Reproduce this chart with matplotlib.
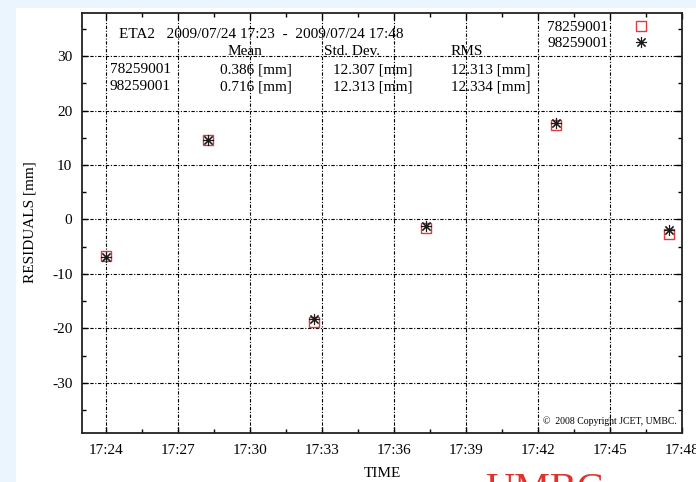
import datetime as dt
import matplotlib
matplotlib.use("Agg")
import matplotlib.pyplot as plt
import matplotlib.dates as mdates
from matplotlib.ticker import MultipleLocator
from matplotlib.lines import Line2D
from matplotlib.patches import Rectangle

# ---- data -------------------------------------------------------------
day = "2009-07-24"
obs_times = ["17:24:00", "17:28:15", "17:32:40", "17:37:20", "17:42:45", "17:47:28"]
res_78259001 = [-6.75, 14.5, -18.8, -1.5, 17.4, -2.6]
res_98259001 = [-6.9, 14.6, -18.3, -1.2, 17.7, -2.0]

station_ids = ["78259001", "98259001"]
stat_headers = ["Mean", "Std. Dev.", "RMS"]
stat_mean = ["0.386 [mm]", "0.716 [mm]"]
stat_std = ["12.307 [mm]", "12.313 [mm]"]
stat_rms = ["12.313 [mm]", "12.334 [mm]"]

title_text = "ETA2   2009/07/24 17:23  -  2009/07/24 17:48"
t_start, t_end = "17:23:00", "17:48:00"
y_range = (-39.2, 37.9)


def to_dt(hms):
    return dt.datetime.strptime(f"{day} {hms}", "%Y-%m-%d %H:%M:%S")


times = [to_dt(t) for t in obs_times]

# ---- figure -----------------------------------------------------------
W, H = 696, 482
plt.rcParams["font.family"] = ["Liberation Serif", "DejaVu Serif"]
plt.rcParams["axes.unicode_minus"] = False
fig = plt.figure(figsize=(W / 100, H / 100), dpi=100, facecolor="#ebf5fe")
# white page area
fig.patches.append(Rectangle((16 / W, 0), 1 - 16 / W, 1 - 8 / H,
                             transform=fig.transFigure, facecolor="white",
                             edgecolor="none", zorder=-10))

AX_L, AX_R, AX_T, AX_B = 82, 682, 13, 433
ax = fig.add_axes([AX_L / W, 1 - AX_B / H, (AX_R - AX_L) / W, (AX_B - AX_T) / H])
ax.set_facecolor("none")
ax.set_zorder(2)


def fx(px):
    return px / W


def fy(py):
    return 1 - py / H


# ---- marks ------------------------------------------------------------
red = "#e03a3a"
star_color = "#1a1a1a"
ax.plot(times, res_78259001, linestyle="none", marker="s", markersize=7.2,
        markerfacecolor="none", markeredgecolor=red, markeredgewidth=1.0, zorder=3)
ax.plot(times, res_98259001, linestyle="none", marker=(8, 2, 0), markersize=8.0,
        color=star_color, markeredgewidth=0.8, zorder=4)

# ---- axes -------------------------------------------------------------
ax.set_xlim(to_dt(t_start), to_dt(t_end))
ax.set_ylim(*y_range)
ax.xaxis.set_major_locator(mdates.MinuteLocator(byminute=range(0, 60, 3)))
ax.xaxis.set_minor_locator(MultipleLocator(1.5 / 1440))
ax.xaxis.set_major_formatter(mdates.DateFormatter("%H:%M"))
ax.yaxis.set_major_locator(MultipleLocator(10))
ax.yaxis.set_minor_locator(MultipleLocator(5))

ax.tick_params(which="both", direction="in", top=True, right=True,
               colors="black", width=1.0)
ax.tick_params(which="major", length=4.5, labelsize=11)
ax.tick_params(which="minor", length=3)
ax.tick_params(axis="x", which="major", pad=8)
ax.tick_params(axis="y", which="major", pad=7)
for s in ax.spines.values():
    s.set_linewidth(1.3)
    s.set_color("#222222")

ax.grid(True, which="major", color="black", linewidth=0.8,
        linestyle=(0, (3, 1.5, 1, 1.5)))

fig.text(fx(382), fy(477), "TIME", ha="center", va="baseline", fontsize=11)
fig.text(fx(30), fy(222), "RESIDUALS [mm]", ha="center", va="center",
         rotation=90, fontsize=11)

# ---- header and statistics table ---------------------------------------
fs = 11
fig.text(fx(119), fy(38), title_text, ha="left", va="baseline", fontsize=fs)
header_x = [245, 352, 467]
for hx, htxt in zip(header_x, stat_headers):
    fig.text(fx(hx), fy(55), htxt, ha="center", va="baseline", fontsize=fs)
row_y = [73, 90.5]
for ry, sid, m, sd, r in zip(row_y, station_ids, stat_mean, stat_std, stat_rms):
    fig.text(fx(110), fy(ry), sid, ha="left", va="baseline", fontsize=fs)
    fig.text(fx(220), fy(ry), m, ha="left", va="baseline", fontsize=fs)
    fig.text(fx(333), fy(ry), sd, ha="left", va="baseline", fontsize=fs)
    fig.text(fx(451), fy(ry), r, ha="left", va="baseline", fontsize=fs)

# ---- key ----------------------------------------------------------------
key_y = [30.7, 46.7]
for ky, sid in zip(key_y, station_ids):
    fig.text(fx(608), fy(ky), sid, ha="right", va="baseline", fontsize=fs)
fig.add_artist(Line2D([fx(641)], [fy(26)], transform=fig.transFigure,
                      linestyle="none", marker="s", markersize=7.2,
                      markerfacecolor="none", markeredgecolor=red,
                      markeredgewidth=1.0))
fig.add_artist(Line2D([fx(641)], [fy(42)], transform=fig.transFigure,
                      linestyle="none", marker=(8, 2, 0), markersize=8.0,
                      color=star_color, markeredgewidth=0.8))

# ---- footer -------------------------------------------------------------
fig.text(fx(677), fy(424), "\u00a9  2008 Copyright JCET, UMBC.", ha="right",
         va="baseline", fontsize=7)
fig.text(fx(485), fy(499.5), "UMBC", ha="left", va="baseline", fontsize=29,
         color="#e2302c")

fig.savefig("out.png", dpi=100, facecolor=fig.get_facecolor())
